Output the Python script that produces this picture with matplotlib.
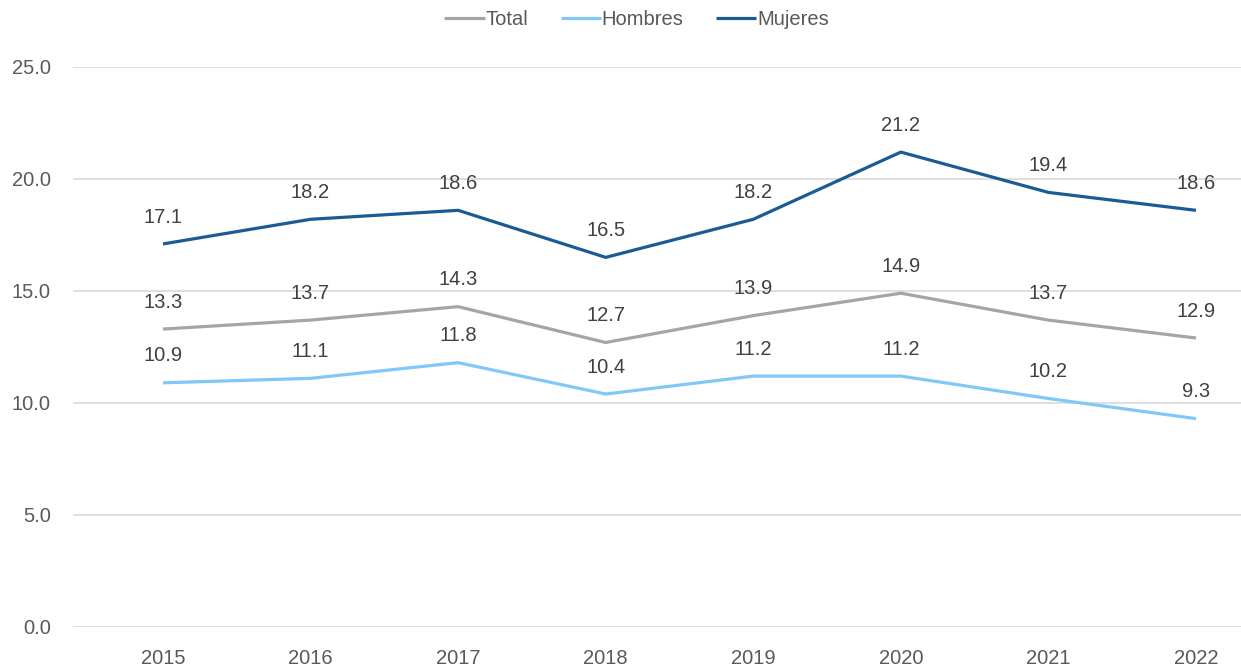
import numpy as np
import matplotlib.pyplot as plt

years = ['2015', '2016', '2017', '2018', '2019', '2020', '2021', '2022']
total = [13.3, 13.7, 14.3, 12.7, 13.9, 14.9, 13.7, 12.9]
hombres = [10.9, 11.1, 11.8, 10.4, 11.2, 11.2, 10.2, 9.3]
mujeres = [17.1, 18.2, 18.6, 16.5, 18.2, 21.2, 19.4, 18.6]

plt.rcParams['font.family'] = ['Liberation Sans', 'DejaVu Sans']

fig = plt.figure(figsize=(12.41, 6.69), dpi=100)
ax = fig.add_axes([0.0588, 0.0628, 0.9412, 0.8371])

x = np.arange(len(years))
series = [('Total', total, '#A5A5A5'),
          ('Hombres', hombres, '#80C8F7'),
          ('Mujeres', mujeres, '#1A5B95')]
for name, vals, col in series:
    ax.plot(x, vals, color=col, lw=2.3, label=name, solid_capstyle='butt')
    for xi, v in zip(x, vals):
        ax.annotate(f'{v:.1f}', (xi, v), xytext=(0, 12.5), textcoords='offset points',
                    ha='center', va='bottom', fontsize=14.5, color='#404040')

ax.set_ylim(0, 25)
ax.set_xlim(-0.61, 7.305)
ax.set_yticks(np.arange(0, 26, 5))
ax.set_yticklabels([f'{v:.1f}' for v in np.arange(0, 26, 5)])
ax.set_xticks(x)
ax.set_xticklabels(years)
ax.tick_params(length=0, labelsize=14.5, labelcolor='#595959')
ax.tick_params(axis='x', pad=16)
ax.tick_params(axis='y', pad=16)
ax.grid(axis='y', color='#D9D9D9', lw=1.2)
ax.set_axisbelow(True)
for s in ax.spines.values():
    s.set_visible(False)

fig.legend(loc='upper center', bbox_to_anchor=(0.513, 1.012), ncol=3, frameon=False,
           fontsize=14.5, labelcolor='#595959', handlelength=2.0, handletextpad=0.05,
           columnspacing=1.6)

fig.savefig('out.png', dpi=100)
